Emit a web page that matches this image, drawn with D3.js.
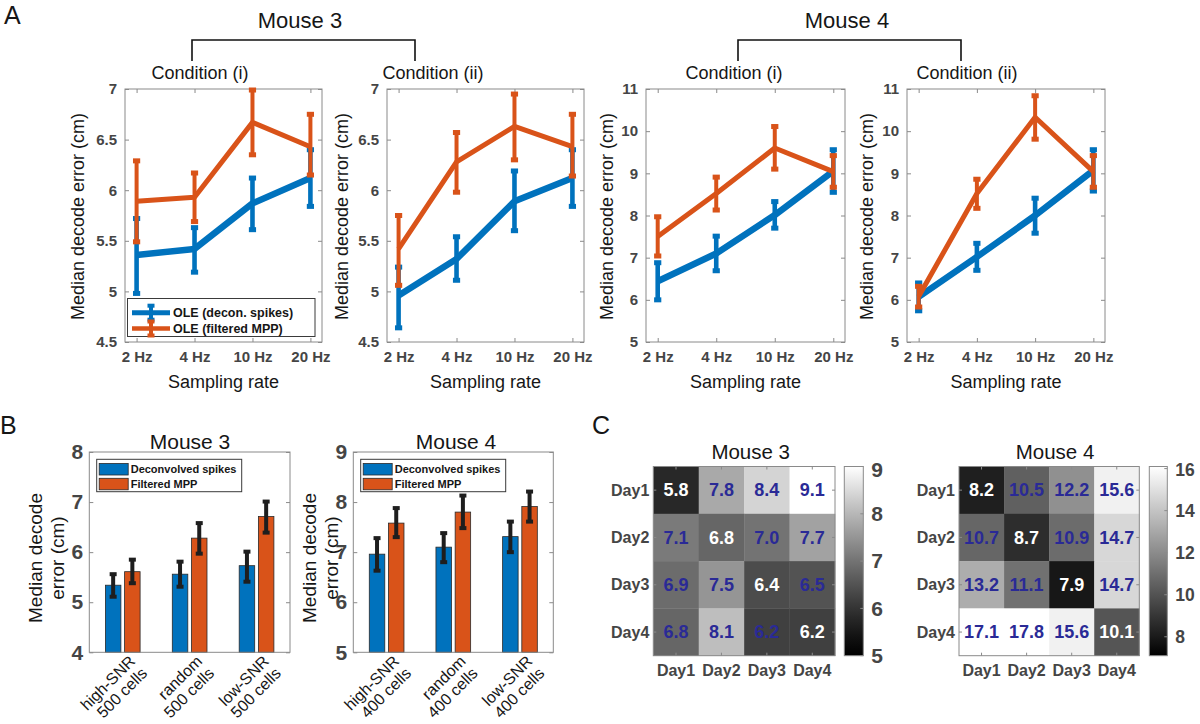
<!DOCTYPE html>
<html><head><meta charset="utf-8">
<script src="https://cdn.jsdelivr.net/npm/d3@7"></script>
<style>body{margin:0;background:#fff} svg{display:block}</style>
</head><body><svg id="c" width="1200" height="724"></svg>
<script>
// ---------------- DATA ----------------
const rates = ["2 Hz", "4 Hz", "10 Hz", "20 Hz"];
const conditionTitles = ["Condition (i)", "Condition (ii)", "Condition (i)", "Condition (ii)"];
const mouseTitles = ["Mouse 3", "Mouse 4"];
const seriesNamesA = ["OLE (decon. spikes)", "OLE (filtered MPP)"];
const aTicksM3 = [4.5, 5, 5.5, 6, 6.5, 7];
const aTicksM4 = [5, 6, 7, 8, 9, 10, 11];
// Panel A: order = Mouse3 cond(i), Mouse3 cond(ii), Mouse4 cond(i), Mouse4 cond(ii)
const blueMean = [[5.36, 5.42, 5.87, 6.12], [4.96, 5.32, 5.89, 6.12], [6.44, 7.10, 8.01, 9.05], [6.07, 7.02, 8.00, 9.07]];
const blueLo   = [[4.98, 5.19, 5.61, 5.84], [4.64, 5.11, 5.60, 5.84], [6.00, 6.69, 7.70, 8.55], [5.74, 6.70, 7.58, 8.58]];
const blueHi   = [[5.72, 5.63, 6.12, 6.40], [5.24, 5.54, 6.19, 6.40], [6.88, 7.51, 8.33, 9.56], [6.40, 7.34, 8.41, 9.56]];
const orangeMean = [[5.89, 5.93, 6.67, 6.43], [5.42, 6.28, 6.63, 6.43], [7.50, 8.52, 9.60, 9.04], [6.08, 8.52, 10.33, 9.04]];
const orangeLo   = [[5.49, 5.69, 6.35, 6.15], [5.06, 5.98, 6.30, 6.14], [7.04, 8.13, 9.10, 8.67], [5.83, 8.17, 9.81, 8.67]];
const orangeHi   = [[6.29, 6.17, 6.99, 6.75], [5.75, 6.57, 6.95, 6.75], [7.97, 8.91, 10.11, 9.42], [6.32, 8.86, 10.84, 9.42]];

// Panel B
const seriesNamesB = ["Deconvolved spikes", "Filtered MPP"];
const bCatsM3 = [["high-SNR", "500 cells"], ["random", "500 cells"], ["low-SNR", "500 cells"]];
const bCatsM4 = [["high-SNR", "400 cells"], ["random", "400 cells"], ["low-SNR", "400 cells"]];
const bTicksM3 = [4, 5, 6, 7, 8];
const bTicksM4 = [5, 6, 7, 8, 9];
const bM3Blue = [5.34, 5.56, 5.73], bM3BlueLo = [5.11, 5.31, 5.41], bM3BlueHi = [5.56, 5.81, 6.01];
const bM3Orange = [5.61, 6.28, 6.71], bM3OrangeLo = [5.38, 5.97, 6.39], bM3OrangeHi = [5.85, 6.58, 7.01];
const bM4Blue = [6.96, 7.10, 7.31], bM4BlueLo = [6.63, 6.80, 7.00], bM4BlueHi = [7.28, 7.38, 7.61];
const bM4Orange = [7.58, 7.80, 7.91], bM4OrangeLo = [7.30, 7.48, 7.61], bM4OrangeHi = [7.88, 8.13, 8.21];

// Panel C
const days = ["Day1", "Day2", "Day3", "Day4"];
const cM3 = [[5.8, 7.8, 8.4, 9.1], [7.1, 6.8, 7.0, 7.7], [6.9, 7.5, 6.4, 6.5], [6.8, 8.1, 6.2, 6.2]];
const cM4 = [[8.2, 10.5, 12.2, 15.6], [10.7, 8.7, 10.9, 14.7], [13.2, 11.1, 7.9, 14.7], [17.1, 17.8, 15.6, 10.1]];
const cTicksM3 = [5, 6, 7, 8, 9];
const cTicksM4 = [8, 10, 12, 14, 16];
const cClimM3 = [5, 9];
const cClimM4 = [7.1, 16.1];

// ---------------- STYLE ----------------
const FONT = '"Liberation Sans", Arial, Helvetica, sans-serif';
const BLUE = "#0072BD", ORANGE = "#D95319", TICKC = "#454545", BOXC = "#8a8a8a", INK = "#161616";
const svg = d3.select("#c").attr("font-family", FONT);
svg.append("rect").attr("width", 1200).attr("height", 724).attr("fill", "#fff");
const fmt = d3.format("");

function text(g, x, y, s, o = {}) {
  const t = g.append("text").attr("x", x).attr("y", y).text(s)
    .attr("font-size", o.size || 14).attr("font-weight", o.bold ? "bold" : "normal")
    .attr("fill", o.fill || INK).attr("text-anchor", o.anchor || "middle")
    .attr("dy", o.dy !== undefined ? o.dy : "0.35em");
  if (o.rotate) t.attr("transform", `rotate(${o.rotate},${x},${y})`);
  return t;
}
function styleAxis(ag, size, bold, showText = true) {
  ag.attr("font-family", FONT).attr("font-size", size).attr("font-weight", bold ? "bold" : "normal");
  ag.select(".domain").remove();
  ag.selectAll(".tick line").attr("stroke", BOXC).attr("stroke-width", 1);
  ag.selectAll(".tick text").attr("fill", TICKC);
  if (!showText) ag.selectAll(".tick text").remove();
}

// panel letters
text(svg, 4, 15, "A", { size: 25, anchor: "start" });
text(svg, 0, 425, "B", { size: 25, anchor: "start" });
text(svg, 592, 425, "C", { size: 25, anchor: "start" });

// ---------------- PANEL A ----------------
const layoutA = [
  { x0: 125, x1: 322, ylab: 78, tx: 200 },
  { x0: 387, x1: 584, ylab: 342, tx: 433 },
  { x0: 646, x1: 845, ylab: 607, tx: 734 },
  { x0: 907, x1: 1105, ylab: 867, tx: 967 }];
const A_Y0 = 89, A_Y1 = 342;
const aDomains = [[4.5, 7], [4.5, 7], [5, 11], [5, 11]];
const aTicks = [aTicksM3, aTicksM3, aTicksM4, aTicksM4];

// mouse titles and brackets
[[300, 192, 415], [847, 738, 961]].forEach((b, k) => {
  text(svg, b[0], 20, mouseTitles[k], { size: 22 });
  svg.append("path").attr("d", `M${b[1]},61V40H${b[2]}V61`).attr("fill", "none").attr("stroke", "#111").attr("stroke-width", 1.6);
});

function drawSeries(g, x, y, mean, lo, hi, color, lw, ew) {
  g.append("path").datum(mean)
    .attr("d", d3.line().x((d, j) => x(j + 1)).y(d => y(d)))
    .attr("fill", "none").attr("stroke", color).attr("stroke-width", lw).attr("stroke-linejoin", "round");
  mean.forEach((m, j) => {
    const cx = x(j + 1);
    g.append("line").attr("x1", cx).attr("x2", cx).attr("y1", y(lo[j])).attr("y2", y(hi[j]))
      .attr("stroke", color).attr("stroke-width", ew);
    [lo[j], hi[j]].forEach(v => {
      g.append("rect").attr("x", cx - 3.6).attr("y", y(v) - 2.5).attr("width", 7.2).attr("height", 5).attr("fill", color);
    });
  });
}

layoutA.forEach((L, i) => {
  const g = svg.append("g");
  const x = d3.scaleLinear().domain([0.8, 4.2]).range([L.x0, L.x1]);
  const y = d3.scaleLinear().domain(aDomains[i]).range([A_Y1, A_Y0]);
  styleAxis(g.append("g").attr("transform", `translate(${L.x0},0)`)
    .call(d3.axisLeft(y).tickValues(aTicks[i]).tickSize(-4).tickSizeOuter(0).tickPadding(8).tickFormat(fmt)), 15, true);
  styleAxis(g.append("g").attr("transform", `translate(${L.x1},0)`)
    .call(d3.axisRight(y).tickValues(aTicks[i]).tickSize(-4).tickSizeOuter(0)), 15, true, false);
  styleAxis(g.append("g").attr("transform", `translate(0,${A_Y1})`)
    .call(d3.axisBottom(x).tickValues([1, 2, 3, 4]).tickSize(-4).tickSizeOuter(0).tickPadding(9).tickFormat((d, j) => rates[j])), 15, true);
  styleAxis(g.append("g").attr("transform", `translate(0,${A_Y0})`)
    .call(d3.axisTop(x).tickValues([1, 2, 3, 4]).tickSize(-4).tickSizeOuter(0)), 15, true, false);
  g.append("rect").attr("x", L.x0).attr("y", A_Y0).attr("width", L.x1 - L.x0).attr("height", A_Y1 - A_Y0)
    .attr("fill", "none").attr("stroke", BOXC).attr("stroke-width", 1);

  drawSeries(g, x, y, blueMean[i], blueLo[i], blueHi[i], BLUE, 6.5, 4.6);
  drawSeries(g, x, y, orangeMean[i], orangeLo[i], orangeHi[i], ORANGE, 5, 4);

  text(g, L.tx, 72.5, conditionTitles[i], { size: 18 });
  text(g, (L.x0 + L.x1) / 2 + 0, 382, "Sampling rate", { size: 18 });
  text(g, L.ylab, (A_Y0 + A_Y1) / 2 + 1, "Median decode error (cm)", { size: 18, rotate: -90 });

  if (i === 0) {
    const lg = g.append("g");
    lg.append("rect").attr("x", 127.5).attr("y", 298.5).attr("width", 187.5).attr("height", 38)
      .attr("fill", "#fff").attr("stroke", "#3a3a3a").attr("stroke-width", 1);
    [[BLUE, 312.7, 5], [ORANGE, 328.5, 4.5]].forEach((e, k) => {
      lg.append("line").attr("x1", 132).attr("x2", 170).attr("y1", e[1]).attr("y2", e[1]).attr("stroke", e[0]).attr("stroke-width", e[2]);
      lg.append("line").attr("x1", 151).attr("x2", 151).attr("y1", e[1] - 7).attr("y2", e[1] + 7).attr("stroke", e[0]).attr("stroke-width", 4);
      [e[1] - 7, e[1] + 7].forEach(v => lg.append("rect").attr("x", 147.5).attr("y", v - 2).attr("width", 7).attr("height", 4).attr("fill", e[0]));
      text(lg, 173, e[1], seriesNamesA[k], { size: 12.5, bold: true, anchor: "start" });
    });
  }
});

// ---------------- PANEL B ----------------
const layoutB = [
  { x0: 89.3, x1: 290, tx: 190, ylab: [35.5, 57.5], dom: [4, 8], ticks: bTicksM3, cats: bCatsM3,
    b: bM3Blue, bl: bM3BlueLo, bh: bM3BlueHi, o: bM3Orange, ol: bM3OrangeLo, oh: bM3OrangeHi, title: mouseTitles[0] },
  { x0: 353.3, x1: 553.3, tx: 456, ylab: [309, 331], dom: [5, 9], ticks: bTicksM4, cats: bCatsM4,
    b: bM4Blue, bl: bM4BlueLo, bh: bM4BlueHi, o: bM4Orange, ol: bM4OrangeLo, oh: bM4OrangeHi, title: mouseTitles[1] }];
const B_Y0 = 452, B_Y1 = 652.3;
layoutB.forEach(L => {
  const g = svg.append("g");
  const x = d3.scaleLinear().domain([0.5, 3.5]).range([L.x0, L.x1]);
  const y = d3.scaleLinear().domain(L.dom).range([B_Y1, B_Y0]);
  text(g, L.ylab[0], 558, "Median decode", { size: 19, rotate: -90 });
  text(g, L.ylab[1], 558, "error (cm)", { size: 19, rotate: -90 });
  styleAxis(g.append("g").attr("transform", `translate(${L.x0},0)`)
    .call(d3.axisLeft(y).tickValues(L.ticks).tickSize(-4).tickSizeOuter(0).tickPadding(6).tickFormat(fmt)), 21, true);
  styleAxis(g.append("g").attr("transform", `translate(${L.x1},0)`)
    .call(d3.axisRight(y).tickValues(L.ticks).tickSize(-4).tickSizeOuter(0)), 21, true, false);
  const bw = 15.5, off = 9.6;
  [[L.b, L.bl, L.bh, BLUE, -off], [L.o, L.ol, L.oh, ORANGE, off]].forEach(s => {
    s[0].forEach((v, j) => {
      const cx = x(j + 1) + s[4];
      g.append("rect").attr("x", cx - bw / 2).attr("y", y(v)).attr("width", bw).attr("height", y(L.dom[0]) - y(v))
        .attr("fill", s[3]).attr("stroke", "#2a2a2a").attr("stroke-width", 0.8);
    });
  });
  [[L.b, L.bl, L.bh, -off], [L.o, L.ol, L.oh, off]].forEach(s => {
    s[0].forEach((v, j) => {
      const cx = x(j + 1) + s[3];
      g.append("line").attr("x1", cx).attr("x2", cx).attr("y1", y(s[1][j])).attr("y2", y(s[2][j]))
        .attr("stroke", "#1e1e1e").attr("stroke-width", 4);
      [s[1][j], s[2][j]].forEach(w => g.append("rect").attr("x", cx - 3.5).attr("y", y(w) - 2).attr("width", 7).attr("height", 4).attr("fill", "#1e1e1e"));
    });
  });
  g.append("rect").attr("x", L.x0).attr("y", B_Y0).attr("width", L.x1 - L.x0).attr("height", B_Y1 - B_Y0)
    .attr("fill", "none").attr("stroke", BOXC).attr("stroke-width", 1);
  // legend
  const lx = L.x0 + 7.4, ly = 459.3;
  g.append("rect").attr("x", lx).attr("y", ly).attr("width", 145).attr("height", 32.4)
    .attr("fill", "#fff").attr("stroke", "#3a3a3a").attr("stroke-width", 1);
  [[BLUE, 463.5], [ORANGE, 478.3]].forEach((e, k) => {
    g.append("rect").attr("x", lx + 2.5).attr("y", e[1]).attr("width", 29).attr("height", 11.5)
      .attr("fill", e[0]).attr("stroke", "#2a2a2a").attr("stroke-width", 0.8);
    text(g, lx + 34, e[1] + 6, seriesNamesB[k], { size: 11, bold: true, anchor: "start" });
  });
  // category labels rotated
  L.cats.forEach((c, j) => {
    const tg = g.append("g").attr("transform", `translate(${x(j + 1) + 9.5},${B_Y1 + 6}) rotate(-45)`);
    const t = tg.append("text").attr("text-anchor", "end").attr("font-size", 16).attr("fill", INK);
    c.forEach((line, k) => t.append("tspan").attr("x", 0).attr("y", k * 17).attr("dy", "0.35em").text(line));
  });
  text(g, L.tx, 441.7, L.title, { size: 21 });
});

// ---------------- PANEL C ----------------
const layoutC = [
  { x0: 653.3, x1: 835, cbx: 844.3, cbw: 19, data: cM3, clim: cClimM3, ticks: cTicksM3, tsize: 21, title: mouseTitles[0], tx: 750.7, gamma: 1.15, id: "g1" },
  { x0: 959, x1: 1139.3, cbx: 1149.3, cbw: 18, data: cM4, clim: cClimM4, ticks: cTicksM4, tsize: 17.5, title: mouseTitles[1], tx: 1055, gamma: 1, id: "g2" }];
const C_Y0 = 466.5, C_Y1 = 655.7;
const defs = svg.append("defs");
layoutC.forEach(L => {
  const g = svg.append("g");
  const xb = d3.scaleBand().domain(days).range([L.x0, L.x1]);
  const yb = d3.scaleBand().domain(days).range([C_Y0, C_Y1]);
  const norm = d3.scaleLinear().domain(L.clim).range([0, 1]).clamp(true);
  const grayOf = t => { const v = Math.round(255 * Math.pow(t, L.gamma)); return `rgb(${v},${v},${v})`; };
  const grad = defs.append("linearGradient").attr("id", L.id).attr("x1", 0).attr("y1", 1).attr("x2", 0).attr("y2", 0);
  d3.range(0, 1.0001, 0.1).forEach(t => grad.append("stop").attr("offset", `${t * 100}%`).attr("stop-color", grayOf(t)));
  L.data.forEach((row, r) => row.forEach((v, c) => {
    g.append("rect").attr("x", xb(days[c])).attr("y", yb(days[r])).attr("width", xb.bandwidth() + 0.3).attr("height", yb.bandwidth() + 0.3)
      .attr("fill", grayOf(norm(v)));
  }));
  L.data.forEach((row, r) => row.forEach((v, c) => {
    text(g, xb(days[c]) + xb.bandwidth() / 2, yb(days[r]) + yb.bandwidth() / 2, v.toFixed(1),
      { size: 18, bold: true, fill: r === c ? "#ffffff" : "#2a2a96" });
  }));
  // ticks
  days.forEach(d => {
    const cx = xb(d) + xb.bandwidth() / 2, cy = yb(d) + yb.bandwidth() / 2;
    g.append("line").attr("x1", cx).attr("x2", cx).attr("y1", C_Y1).attr("y2", C_Y1 - 3).attr("stroke", BOXC);
    g.append("line").attr("x1", cx).attr("x2", cx).attr("y1", C_Y0).attr("y2", C_Y0 + 3).attr("stroke", BOXC);
    g.append("line").attr("x1", L.x0).attr("x2", L.x0 + 3).attr("y1", cy).attr("y2", cy).attr("stroke", BOXC);
    g.append("line").attr("x1", L.x1).attr("x2", L.x1 - 3).attr("y1", cy).attr("y2", cy).attr("stroke", BOXC);
    text(g, L.x0 - 4, cy, d, { size: 16, bold: true, anchor: "end", fill: TICKC });
    text(g, cx, 670, d, { size: 16, bold: true, fill: TICKC });
  });
  g.append("rect").attr("x", L.x0).attr("y", C_Y0).attr("width", L.x1 - L.x0).attr("height", C_Y1 - C_Y0)
    .attr("fill", "none").attr("stroke", BOXC).attr("stroke-width", 1);
  text(g, L.tx, 452, L.title, { size: 20.5 });
  // colorbar
  const cy = d3.scaleLinear().domain(L.clim).range([C_Y1, C_Y0]);
  g.append("rect").attr("x", L.cbx).attr("y", C_Y0).attr("width", L.cbw).attr("height", C_Y1 - C_Y0)
    .attr("fill", `url(#${L.id})`).attr("stroke", BOXC).attr("stroke-width", 1);
  L.ticks.forEach(t => {
    g.append("line").attr("x1", L.cbx + L.cbw).attr("x2", L.cbx + L.cbw - 3).attr("y1", cy(t)).attr("y2", cy(t)).attr("stroke", BOXC);
    text(g, L.cbx + L.cbw + 8, Math.max(cy(t), C_Y0 + 3), t, { size: L.tsize, bold: true, anchor: "start", fill: TICKC });
  });
});
</script></body></html>
